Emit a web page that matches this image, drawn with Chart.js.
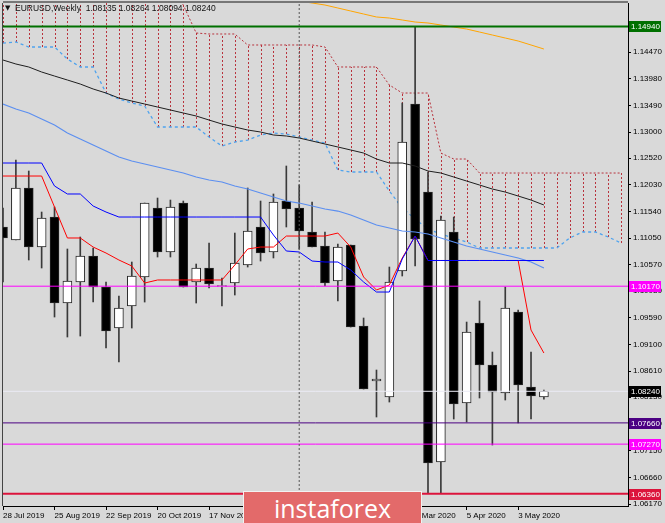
<!DOCTYPE html>
<html>
<head>
<meta charset="utf-8">
<script src="https://cdn.jsdelivr.net/npm/chart.js@4.4.0/dist/chart.umd.min.js"></script>
<style>
  html, body { margin:0; padding:0; background:#d9d9d9; }
  #wrap { position:relative; width:665px; height:523px; overflow:hidden; }
  #arrow { position:absolute; left:5px; top:4px; font:7px "DejaVu Sans", sans-serif; color:#111; }
  #title { position:absolute; left:15px; top:3px; font:8.5px "Liberation Sans", Arial, sans-serif; color:#111; white-space:pre; }
  #logo { position:absolute; left:243px; top:491px; width:177px; height:36px; background:#e36a6a; border:1px solid #f2f2f2; color:#fff;
          font:25px "Open Sans", sans-serif; text-align:center; line-height:33px; }
</style>
</head>
<body>
<div id="wrap">
  <canvas id="chart" width="665" height="523"></canvas>
  <div id="arrow">▼</div>
  <div id="title">EURUSD,Weekly  1.08135 1.08264 1.08094 1.08240</div>
  <div id="logo">instaforex</div>
</div>
<script>
// weekly bars, index 0 = 28 Jul 2019
var xTickPos = [0, 4, 8, 12, 16, 20, 24, 28, 32, 36, 40];
var xTickLabels = ['28 Jul 2019','25 Aug 2019','22 Sep 2019','20 Oct 2019','17 Nov 2019','15 Dec 2019',
                   '12 Jan 2020','9 Feb 2020','8 Mar 2020','5 Apr 2020','3 May 2020'];
var yTicks = [1.14470,1.13980,1.13490,1.13000,1.12520,1.12030,1.11540,1.11050,1.10570,1.10080,
              1.09590,1.09100,1.08610,1.08130,1.07640,1.07150,1.06660,1.06170];

var opens  = [1.11257,1.11018,1.11973,1.10889,1.11440,1.09861,1.10247,1.10724,1.10155,1.09402,1.09806,
              1.10339,1.11606,1.10798,1.11697,1.10247,1.10504,1.10165,1.10228,1.10559,1.11257,1.10798,
              1.11734,1.11606,1.11165,1.10908,1.10265,1.10926,1.09439,1.08429,1.08135,1.10449,1.13515,
              1.11899,1.06942,1.11165,1.08025,1.09494,1.08723,1.08209,1.09696,1.08319,1.08135];
var highs  = [1.11606,1.12487,1.12285,1.11532,1.11624,1.10853,1.11073,1.10871,1.10247,1.09990,1.10614,
              1.11697,1.11789,1.11752,1.11734,1.10577,1.10963,1.10320,1.11146,1.11973,1.11734,1.11863,
              1.12377,1.12028,1.11716,1.11165,1.10945,1.10926,1.09586,1.08631,1.10522,1.13534,1.14940,
              1.12267,1.11459,1.11440,1.09512,1.09898,1.08961,1.10155,1.09733,1.08961,1.08264];
var lows   = [1.10247,1.11018,1.10651,1.10504,1.09604,1.09237,1.09255,1.09879,1.09035,1.08778,1.09402,
              1.09879,1.10706,1.10706,1.10155,1.09861,1.10137,1.09806,1.10008,1.10522,1.10632,1.10688,
              1.11257,1.10853,1.10889,1.10173,1.09898,1.09420,1.08282,1.07768,1.08043,1.10357,1.10541,
              1.06360,1.06360,1.07731,1.07676,1.08117,1.07254,1.08080,1.07658,1.07731,1.08094];
var closes = [1.11055,1.11973,1.10889,1.11422,1.09861,1.10265,1.10724,1.10155,1.09347,1.09769,1.10357,
              1.11697,1.10798,1.11624,1.10155,1.10504,1.10210,1.10180,1.10596,1.11183,1.10779,1.11716,
              1.11587,1.11183,1.10889,1.10228,1.10889,1.09420,1.08282,1.08466,1.10247,1.12817,1.11036,
              1.06923,1.11385,1.08007,1.09329,1.08723,1.08227,1.09769,1.08356,1.08154,1.08240];

// ichimoku
var tenkan = [1.12193,1.12193,1.12193,1.12193,1.11624,1.11055,1.11055,1.10889,1.10779,1.10651,1.10541,
              1.10228,1.10284,1.10284,1.10284,1.10284,1.10284,1.10284,1.10559,1.10853,1.10889,1.10889,
              1.11091,1.11091,1.11091,1.11091,1.11146,1.10889,1.10339,1.10100,1.10192,1.10687,1.11091,
              1.10642,1.10642,1.10642,1.10642,1.10642,1.10642,1.10642,1.10642,1.09365,1.08943];
var kijun  = [1.12432,1.12432,1.12432,1.12432,1.12010,1.11863,1.11863,1.11642,1.11532,1.11440,1.11440,
              1.11440,1.11440,1.11440,1.11440,1.11440,1.11440,1.11440,1.11440,1.11440,1.11440,1.11110,
              1.10816,1.10798,1.10632,1.10614,1.10614,1.10467,1.10247,1.10063,1.10063,1.10669,1.11091,
              1.10642,1.10642,1.10642,1.10642,1.10642,1.10642,1.10642,1.10642,1.10642,1.10642];
var spanA  = [1.14635,1.14654,1.14562,1.14562,1.14562,1.14341,1.14195,1.14195,1.13717,1.13607,1.13534,
              1.13479,1.13093,1.13093,1.13093,1.13093,1.12909,1.12744,1.12817,1.12854,1.12946,1.12983,
              1.12964,1.12909,1.12854,1.12799,1.12303,1.12267,1.12267,1.12267,1.11918,1.11606,1.11404,
              1.11220,1.11128,1.11055,1.10981,1.10871,1.10871,1.10871,1.10871,1.10871,1.10871,1.10871,
              1.11055,1.11165,1.11165,1.11073,1.10963];
var spanB  = [1.15700,1.15700,1.15700,1.15700,1.15700,1.15700,1.15700,1.15700,1.15700,1.15700,1.15700,
              1.15700,1.15700,1.15645,1.15333,1.14819,1.14801,1.14801,1.14801,1.14599,1.14599,1.14599,
              1.14599,1.14599,1.14599,1.14562,1.14195,1.14195,1.14195,1.14195,1.13864,1.13717,1.13717,
              1.13717,1.12615,1.12505,1.12505,1.12248,1.12248,1.12248,1.12248,1.12248,1.12248,1.12248,
              1.12248,1.12248,1.12248,1.12248,1.12248];

// moving averages
var maBlack = [1.14323,1.14250,1.14195,1.14103,1.14029,1.13956,1.13882,1.13791,1.13717,1.13625,1.13570,
               1.13515,1.13460,1.13405,1.13350,1.13295,1.13221,1.13148,1.13093,1.13038,1.13001,1.12946,
               1.12928,1.12891,1.12836,1.12781,1.12726,1.12671,1.12615,1.12505,1.12432,1.12432,1.12377,
               1.12285,1.12248,1.12175,1.12101,1.12028,1.11954,1.11899,1.11826,1.11752,1.11661];
var maBlue  = [1.13515,1.13423,1.13350,1.13240,1.13130,1.12983,1.12873,1.12762,1.12652,1.12542,1.12469,
               1.12413,1.12358,1.12303,1.12248,1.12175,1.12120,1.12083,1.12010,1.11954,1.11881,1.11808,
               1.11734,1.11697,1.11642,1.11587,1.11550,1.11477,1.11385,1.11293,1.11238,1.11183,1.11165,
               1.11128,1.11055,1.10981,1.10908,1.10853,1.10798,1.10743,1.10687,1.10614,1.10504];
var maOrangeStart = 22;
var maOrange = [1.15462,1.15406,1.15370,1.15333,1.15278,1.15223,1.15168,1.15113,1.15094,1.15058,1.15021,
                1.15003,1.14966,1.14929,1.14892,1.14837,1.14782,1.14727,1.14672,1.14599,1.14525];

// horizontal levels + current price
var levels = [1.14940, 1.10170, 1.07660, 1.07270, 1.06360];
var lastPrice = 1.08240;
var vLineAt = 23;

var levelColors = ['#007000', '#ff00ff', '#4b0082', '#ff00ff', '#dc143c'];
var levelWidths = [2, 1, 1, 1, 2];

var X_MIN = 0, X_MAX = 48.53, Y_MIN = 1.06134, Y_MAX = 1.15370;

function pts(arr, start){
  return arr.map(function(v, i){ return {x: i + (start || 0), y: v}; });
}
function line(label, data, color, width, order, dash){
  return { type:'line', label:label, data:data, borderColor:color, borderWidth:width, borderDash:dash || [],
           pointRadius:0, tension:0, fill:false, order:order, clip:0 };
}

var bodies = opens.map(function(o, i){ return {x:i, y:[o, closes[i]]}; });
var wicks = opens.map(function(o, i){ return {x:i, y:[lows[i], highs[i]]}; });
var bodyColors = opens.map(function(o, i){ return closes[i] >= o ? '#ffffff' : '#000000'; });

var datasets = [
  line('span A', pts(spanA), '#4ea3ee', 1.3, 60, [3, 3]),
  line('span B', pts(spanB), '#b8323c', 1, 60, [2, 2]),
  { type:'bar', label:'wick', data:wicks, backgroundColor:'#3a3a3a', borderWidth:0, barThickness:1,
    grouped:false, order:50, clip:0 },
  { type:'bar', label:'body', data:bodies, backgroundColor:bodyColors, borderColor:'#262626', borderWidth:1,
    borderSkipped:false, barThickness:9, grouped:false, order:45, clip:0 },
  line('MA black', pts(maBlack), '#1e1e1e', 1, 30),
  line('MA blue', pts(maBlue), '#5c8ff0', 1.2, 30),
  line('MA orange', pts(maOrange, maOrangeStart), '#ffa500', 1, 30),
  line('tenkan', pts(tenkan), '#ff0000', 1, 29),
  line('kijun', pts(kijun), '#0000ff', 1, 28),
  line('price', [{x:X_MIN, y:lastPrice}, {x:X_MAX, y:lastPrice}], '#ebebf5', 1, 12)
];
levels.forEach(function(v, i){
  datasets.push(line('level ' + v, [{x:X_MIN, y:v}, {x:X_MAX, y:v}], levelColors[i], levelWidths[i], 10));
});
datasets.push(line('vline', [{x:vLineAt, y:Y_MIN}, {x:vLineAt, y:Y_MAX}], '#555555', 1, 5, [2, 2]));

var cloudPlugin = {
  id: 'cloud',
  beforeDatasetsDraw: function(chart){
    var xs = chart.scales.x, ys = chart.scales.y, ctx = chart.ctx, a = chart.chartArea;
    ctx.save();
    ctx.beginPath(); ctx.rect(a.left, a.top, a.right - a.left, a.bottom - a.top); ctx.clip();
    ctx.strokeStyle = '#b8323c'; ctx.lineWidth = 1; ctx.setLineDash([2, 2]);
    for (var i = 0; i < spanA.length; i++) {
      var px = Math.round(xs.getPixelForValue(i)) + 0.5;
      ctx.beginPath();
      ctx.moveTo(px, ys.getPixelForValue(spanA[i]));
      ctx.lineTo(px, ys.getPixelForValue(spanB[i]));
      ctx.stroke();
    }
    ctx.restore();
  }
};

var framePlugin = {
  id: 'frame',
  afterDraw: function(chart){
    var ys = chart.scales.y, ctx = chart.ctx, a = chart.chartArea;
    ctx.save();
    ctx.strokeStyle = '#777'; ctx.lineWidth = 2;
    ctx.beginPath(); ctx.moveTo(a.left, a.top - 1); ctx.lineTo(a.right, a.top - 1); ctx.stroke();
    ctx.strokeStyle = '#444'; ctx.lineWidth = 1;
    ctx.beginPath(); ctx.moveTo(a.left - 0.5, a.top); ctx.lineTo(a.left - 0.5, a.bottom); ctx.stroke();
    // price tags on the right scale
    var tags = levels.map(function(v, i){ return [v, levelColors[i]]; });
    tags.push([lastPrice, '#000000']);
    ctx.font = '8px "Liberation Sans", Arial, sans-serif';
    ctx.textBaseline = 'middle';
    tags.forEach(function(t){
      var yy = Math.round(ys.getPixelForValue(t[0]));
      ctx.fillStyle = t[1];
      ctx.fillRect(a.right + 1, yy - 5, 32, 11);
      ctx.fillStyle = '#ffffff';
      ctx.fillText(t[0].toFixed(5), a.right + 3, yy + 0.5);
    });
    ctx.restore();
  }
};

new Chart(document.getElementById('chart'), {
  type: 'line',
  data: { datasets: datasets },
  plugins: [cloudPlugin, framePlugin],
  options: {
    responsive: false,
    animation: false,
    events: [],
    layout: { padding: { left: 3, top: 3, right: 0, bottom: 0 } },
    plugins: { legend: { display: false }, tooltip: { enabled: false } },
    scales: {
      x: {
        type: 'linear', position: 'bottom', min: X_MIN, max: X_MAX, offset: false,
        grid: { offset: false, drawOnChartArea: false, drawTicks: true, tickLength: 4, color: '#000' },
        border: { color: '#000' },
        afterBuildTicks: function(s){ s.ticks = xTickPos.map(function(v){ return {value: v}; }); },
        afterFit: function(s){ s.height = 17; s.paddingLeft = 0; s.paddingRight = 0; },
        ticks: {
          autoSkip: false, maxRotation: 0, minRotation: 0, align: 'start', padding: 1,
          color: '#000', font: { family: '"Liberation Sans", Arial, sans-serif', size: 8 },
          callback: function(v, i){ return xTickLabels[i]; }
        }
      },
      y: {
        type: 'linear', position: 'right', min: Y_MIN, max: Y_MAX, beginAtZero: false,
        grid: { drawOnChartArea: false, drawTicks: true, tickLength: 3, color: '#000' },
        border: { color: '#000' },
        afterBuildTicks: function(s){ s.ticks = yTicks.map(function(v){ return {value: v}; }); },
        afterFit: function(s){ s.width = 37; s.paddingTop = 0; s.paddingBottom = 0; },
        ticks: {
          padding: 2, color: '#000', font: { family: '"Liberation Sans", Arial, sans-serif', size: 8 },
          callback: function(v){ return Number(v).toFixed(5); }
        }
      }
    }
  }
});
</script>
</body>
</html>
